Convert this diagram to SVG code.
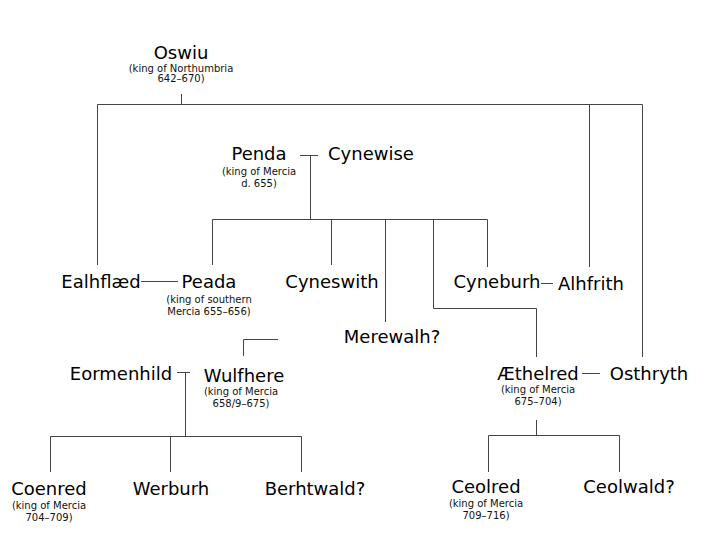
<svg xmlns="http://www.w3.org/2000/svg" width="720" height="540" viewBox="0 0 720 540">
<style>
.n{font-family:"DejaVu Sans",Verdana,sans-serif;font-size:18px;fill:#000;text-anchor:middle}
.s{font-family:"DejaVu Sans",Verdana,sans-serif;font-size:10px;fill:#111;text-anchor:middle}
.c{stroke:#444;stroke-width:1;fill:none}
</style>
<rect width="720" height="540" fill="#fff"/>
<g id="connectors" class="c">
<path d="M181.5,94V104.5M97.5,104.5H642.5M97.5,104.5V265M589.5,104.5V267M642.5,104.5V357"/>
<path d="M300,155.5H318M310.5,155.5V219.5M212.5,219.5H487.5M212.5,219.5V265M331.5,219.5V265M385.5,219.5V322M487.5,219.5V267M433.5,219.5V308.5H536.5V357"/>
<path d="M141,281.5H178M541,283.5H553"/>
<path d="M278,339.5H243.5V356"/>
<path d="M177,372.5H190M185.5,372.5V436.5M50.5,436.5H301.5M50.5,436.5V472M170.5,436.5V472M301.5,436.5V472"/>
<path d="M582,373.5H600M536.5,420V435.5M488.5,435.5H619.5M488.5,435.5V472M619.5,435.5V472"/>
</g>
<g id="oswiu"><text class="n" x="181" y="59">Oswiu</text><text class="s" x="181" y="72">(king of Northumbria</text><text class="s" x="181" y="82">642–670)</text></g>
<g id="penda"><text class="n" x="259" y="160">Penda</text><text class="s" x="259" y="175">(king of Mercia</text><text class="s" x="259" y="187">d. 655)</text></g>
<g id="cynewise"><text class="n" x="371" y="160">Cynewise</text></g>
<g id="ealhflaed"><text class="n" x="101" y="288">Ealhflæd</text></g>
<g id="peada"><text class="n" x="209" y="288">Peada</text><text class="s" x="209" y="303">(king of southern</text><text class="s" x="209" y="315">Mercia 655–656)</text></g>
<g id="cyneswith"><text class="n" x="332" y="288">Cyneswith</text></g>
<g id="cyneburh"><text class="n" x="497" y="288">Cyneburh</text></g>
<g id="alhfrith"><text class="n" x="591" y="290">Alhfrith</text></g>
<g id="merewalh"><text class="n" x="392" y="343">Merewalh?</text></g>
<g id="eormenhild"><text class="n" x="121" y="380">Eormenhild</text></g>
<g id="wulfhere"><text class="n" x="244" y="382">Wulfhere</text><text class="s" x="241" y="395">(king of Mercia</text><text class="s" x="241" y="407">658/9–675)</text></g>
<g id="aethelred"><text class="n" x="538" y="380">Æthelred</text><text class="s" x="538" y="393">(king of Mercia</text><text class="s" x="538" y="405">675–704)</text></g>
<g id="osthryth"><text class="n" x="649" y="380">Osthryth</text></g>
<g id="coenred"><text class="n" x="49" y="495">Coenred</text><text class="s" x="49" y="509">(king of Mercia</text><text class="s" x="49" y="521">704–709)</text></g>
<g id="werburh"><text class="n" x="171" y="495">Werburh</text></g>
<g id="berhtwald"><text class="n" x="315" y="495">Berhtwald?</text></g>
<g id="ceolred"><text class="n" x="486" y="493">Ceolred</text><text class="s" x="486" y="507">(king of Mercia</text><text class="s" x="486" y="519">709–716)</text></g>
<g id="ceolwald"><text class="n" x="629" y="493">Ceolwald?</text></g>
</svg>
